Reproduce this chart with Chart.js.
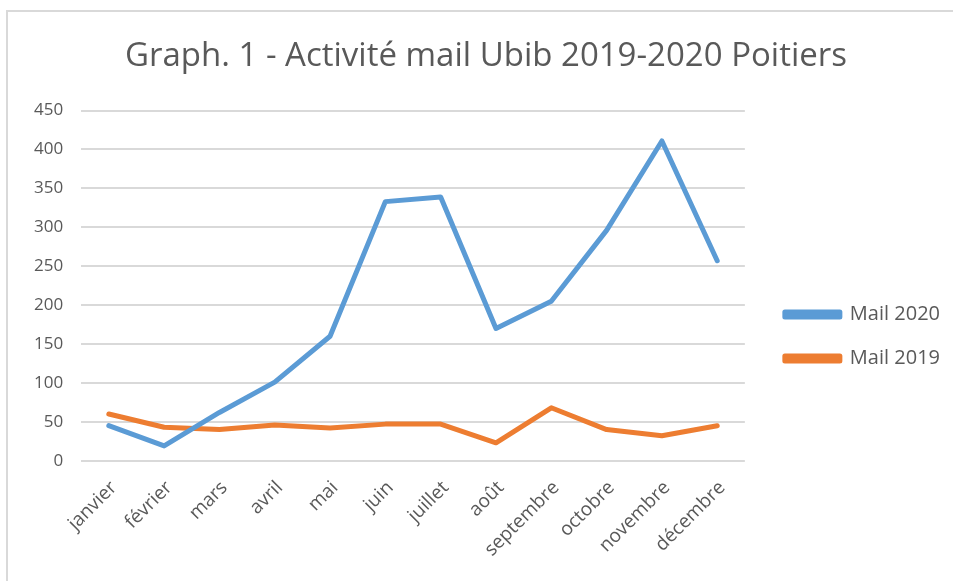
<!DOCTYPE html>
<html>
<head>
<meta charset="utf-8">
<script src="https://cdn.jsdelivr.net/npm/chart.js@4"></script>
<style>
  html, body { margin: 0; padding: 0; background: #fff; }
  #frame {
    position: absolute; left: 6px; top: 10px;
    width: 945px; height: 569px;
    border-left: 2px solid #d9d9d9; border-top: 2px solid #d9d9d9;
  }
</style>
</head>
<body>
<div id="frame"><canvas id="lineChart" width="945" height="569"></canvas></div>
<script>
// data
var months = ["janvier", "février", "mars", "avril", "mai", "juin", "juillet", "août", "septembre", "octobre", "novembre", "décembre"];
var mail2020 = [45, 19, 62, 101, 160, 333, 339, 170, 205, 296, 411, 257];
var mail2019 = [60, 43, 40, 46, 42, 47, 47, 23, 68, 40, 32, 45];
var yTicks = [0, 50, 100, 150, 200, 250, 300, 350, 400, 450];

var grey = '#595959';
var fontName = "'Open Sans', sans-serif";

// push the legend a bit away from the plot, recentre the title
var nudge = {
  id: 'nudge',
  afterLayout: function (chart) {
    chart.legend.left += 16;
    chart.legend.right += 16;
    chart.titleBlock.left += 11;
    chart.titleBlock.right += 11;
  }
};

var ctxL = document.getElementById("lineChart").getContext('2d');
var myLineChart = new Chart(ctxL, {
  type: 'line',
  data: {
    labels: months,
    datasets: [{
        label: "Mail 2020",
        data: mail2020,
        borderColor: '#5b9bd5',
        backgroundColor: '#5b9bd5',
        borderWidth: 5,
        pointRadius: 0,
        borderCapStyle: 'round',
        borderJoinStyle: 'round'
      },
      {
        label: "Mail 2019",
        data: mail2019,
        borderColor: '#ed7d31',
        backgroundColor: '#ed7d31',
        borderWidth: 5,
        pointRadius: 0,
        borderCapStyle: 'round',
        borderJoinStyle: 'round'
      }
    ]
  },
  plugins: [nudge],
  options: {
    responsive: false,
    animation: false,
    layout: { padding: { left: 8, right: 19, top: 0, bottom: 12 } },
    plugins: {
      title: {
        display: true,
        text: "Graph. 1 - Activité mail Ubib 2019-2020 Poitiers",
        color: grey,
        font: { family: fontName, size: 33, weight: 'normal' },
        padding: { top: 25, bottom: 34 }
      },
      legend: {
        position: 'right',
        // empty title only pushes the entries down
        title: { display: true, text: ' ', font: { size: 10 }, padding: { top: 80, bottom: 0 } },
        labels: {
          color: grey,
          font: { family: fontName, size: 20 },
          boxWidth: 55,
          boxHeight: 5,
          padding: 24
        }
      },
      tooltip: { enabled: false }
    },
    scales: {
      x: {
        offset: true,
        grid: { display: false },
        border: { display: false },
        ticks: {
          color: grey,
          font: { family: fontName, size: 19 },
          minRotation: 45,
          maxRotation: 45,
          padding: 8,
          labelOffset: 5
        }
      },
      y: {
        min: 0,
        max: 450,
        afterBuildTicks: function (axis) {
          axis.ticks = yTicks.map(function (v) { return { value: v }; });
        },
        grid: { color: '#d9d9d9', lineWidth: 2, drawTicks: false },
        border: { display: false },
        ticks: {
          color: grey,
          font: { family: fontName, size: 17 },
          padding: 18
        }
      }
    }
  }
});
</script>
</body>
</html>
